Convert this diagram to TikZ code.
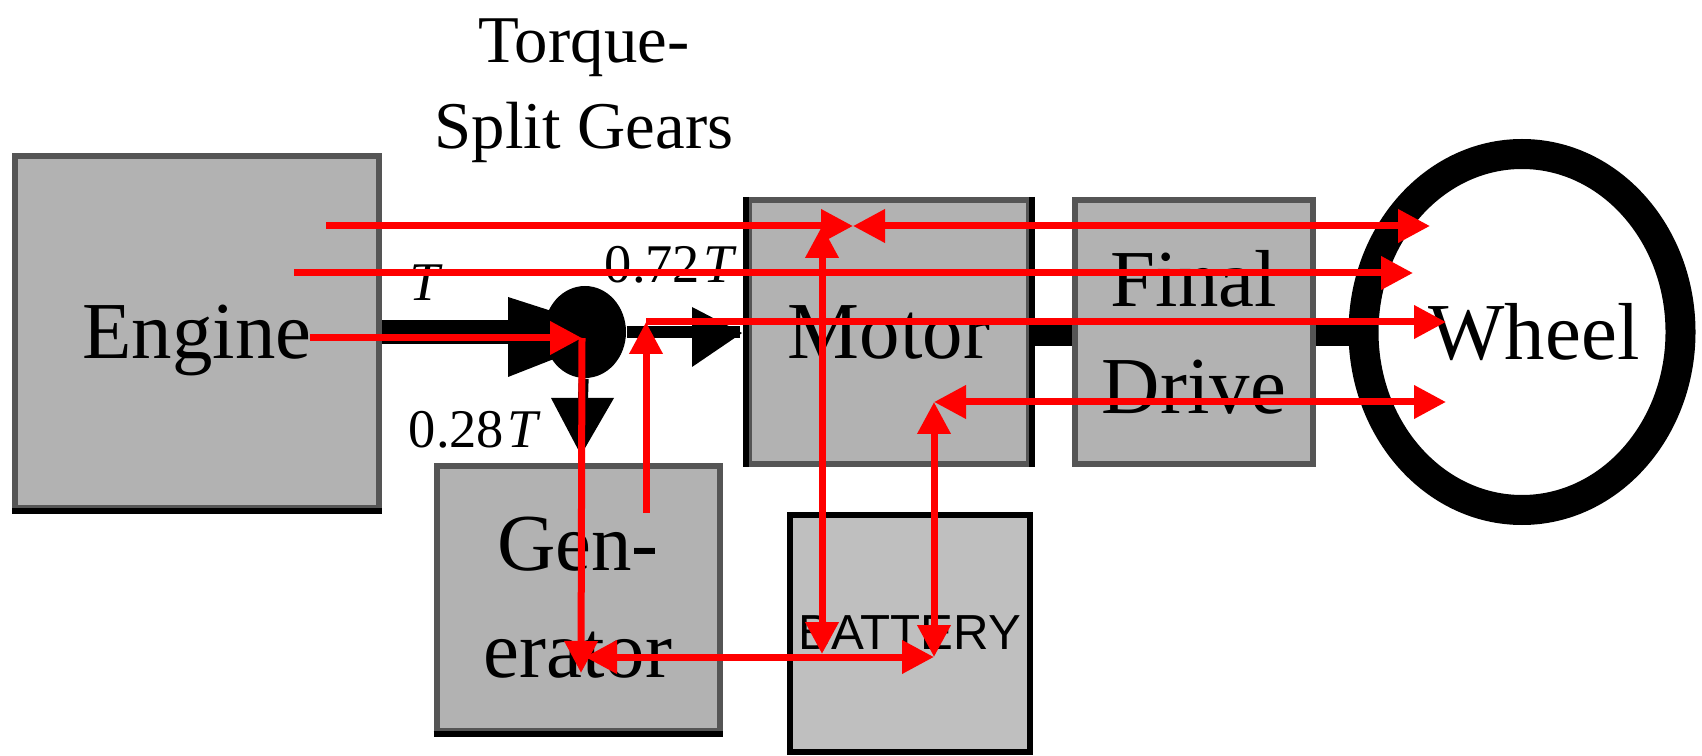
\documentclass[tikz,border=0pt]{standalone}
\usepackage{fontspec}
\setmainfont{Liberation Serif}
\newfontfamily\labelsans{Liberation Sans}
\usepackage{xcolor}
\usetikzlibrary{arrows.meta, shapes.geometric}
\definecolor{boxgray}{RGB}{178,178,178}
\definecolor{batterygray}{RGB}{191,191,191}
\definecolor{edgegray}{RGB}{85,85,85}
\definecolor{flowred}{RGB}{255,0,0}
\tikzset{
  box/.style={draw=edgegray, fill=boxgray, line width=0.6mm, inner sep=0pt, align=center, font=\fontsize{23}{30.5}\selectfont},
  blackedge/.style={black, line width=0.6mm},
  shaft/.style={black, line width=#1},
  torquelabel/.style={inner sep=0pt, font=\fontsize{15.5}{18}\selectfont},
  flow/.style={flowred, line width=0.7mm, -{Triangle[length=3.2mm,width=3.2mm]}},
  flowboth/.style={flowred, line width=0.7mm, {Triangle[length=3.2mm,width=3.2mm]}-{Triangle[length=3.2mm,width=3.2mm]}}
}
\begin{document}
\begin{tikzpicture}[x=0.1mm,y=-0.1mm]
        \useasboundingbox (0,0) rectangle (1702,756);
        \node[inner sep=0pt, align=center, font=\fontsize{19}{24.5}\selectfont] (gears) at (584,91) {Torque-\\Split Gears};
        \node[box, text depth=0pt, minimum width=36.4mm, minimum height=35.2mm] (engine) at (197,332) {Engine};
        \node[box, minimum width=28mm, minimum height=26.4mm] (motor) at (889,332) {Motor};
        \node[box, minimum width=23.8mm, minimum height=26.4mm] (final) at (1194,332) {Final\\Drive};
        \node[box, minimum width=28.3mm, minimum height=26.5mm] (generator) at (578,598) {Gen-\\erator};
        \node[box, draw=black, fill=batterygray, minimum width=24mm, minimum height=23.7mm, font=\labelsans\fontsize{14}{16}\selectfont] (battery) at (910,633) {BATTERY};
        \node[draw, ellipse, line width=3mm, inner sep=0pt, minimum width=31.7mm, minimum height=35.6mm] (wheel) at (1522,332) {\makebox[0pt]{\fontsize{23}{28}\selectfont\hspace{2.4mm}Wheel}};
        \node[fill, ellipse, inner sep=0pt, minimum width=8.2mm, minimum height=9.2mm] (split) at (585,332) {};
        \node[torquelabel] (inlabel) at (426,283) {\textit{T}};
        \node[torquelabel] (outlabel) at (671,265) {0.72\kern1pt\textit{T}};
        \node[torquelabel] (sidelabel) at (475,430) {0.28\kern1pt\textit{T}};
        \coordinate (wheeltop) at (1430,226);
        \coordinate (wheelmid) at (1413,273);
        \coordinate (wheelaxle) at (1446,322);
        \coordinate (wheellow) at (1446,402);
        \coordinate (motortop) at (853,226);
        \coordinate (motorlow) at (934,402);
        \coordinate (batteryleft) at (822,654);
        \coordinate (batteryright) at (934,657);
        \coordinate (splitin) at (582,338);
        \coordinate (splitright) at (740,332);
        \coordinate (splitdown) at (583,400);
        \coordinate (genin) at (581,673);
        \coordinate (genleft) at (585,657);
        \coordinate (genout) at (646,513);
        \coordinate (genoutup) at (646,322);
        \coordinate (starttop) at (326,226);
        \coordinate (startmid) at (294,273);
        \coordinate (startlow) at (310,338);
        \draw[blackedge] (engine.south west) -- (engine.south east);
        \draw[blackedge] (generator.south west) -- (generator.south east);
        \draw[blackedge] (motor.north west) -- (motor.south west);
        \draw[blackedge] (motor.north east) -- (motor.south east);
        \draw[shaft=2.4mm] (engine.east) -- (split);
        \draw[shaft=1.2mm] (split) -- (splitright);
        \draw[shaft=1mm] (split) -- (splitdown);
        \draw[shaft=2.8mm] (motor.east) -- (final.west);
        \draw[shaft=2.8mm] (final.east) -- (wheel.west);
        \fill (508,297) -- (508,377) -- (620,333) -- cycle;
        \fill (692,307) -- (692,367) -- (742,333) -- cycle;
        \fill (551,398) -- (614,398) -- (581,455) -- cycle;
        \draw[flow] (starttop) -- (motortop);
        \draw[flowboth] (motortop) -- (wheeltop);
        \draw[flow] (startmid) -- (wheelmid);
        \draw[flow] (startlow) -- (splitin);
        \draw[flow] (splitin) -- (genin);
        \draw[flow] (genout) -- (genoutup);
        \draw[flow] (genoutup) -- (wheelaxle);
        \draw[flowboth] (motorlow) -- (wheellow);
        \draw[flowboth] (motortop -| batteryleft) -- (batteryleft);
        \draw[flowboth] (motorlow) -- (batteryright);
        \draw[flowboth] (genleft) -- (batteryright);
      \end{tikzpicture}
\end{document}
